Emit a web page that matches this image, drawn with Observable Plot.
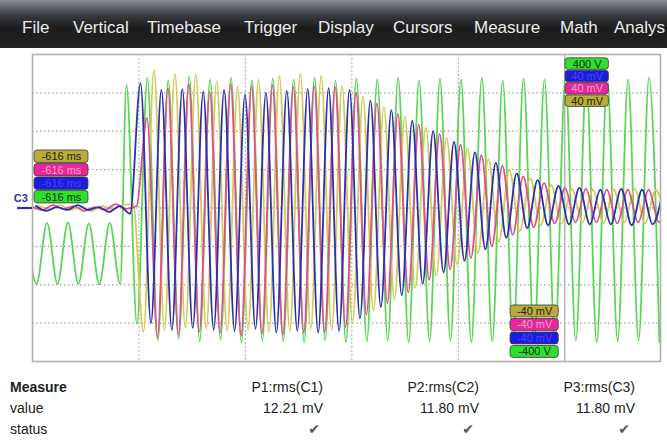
<!DOCTYPE html>
<html><head><meta charset="utf-8">
<script src="https://cdn.jsdelivr.net/npm/d3@7"></script>
<script src="https://cdn.jsdelivr.net/npm/@observablehq/plot@0.6"></script>
<style>
html,body{margin:0;padding:0;}
body{width:667px;height:441px;overflow:hidden;background:#fff;font-family:"Liberation Sans",Arial,sans-serif;position:relative;}
#menu{position:absolute;left:0;top:0;width:667px;height:48px;background:linear-gradient(#8a8e98 0px,#62666f 7px,#34363a 17px,#1c1c1c 28px,#232323 48px);overflow:hidden;}
#menu span{position:absolute;top:19px;color:#ececec;font-size:17px;line-height:17px;white-space:nowrap;}
#chart{position:absolute;left:0;top:48px;}
#table{position:absolute;left:0;top:366px;width:667px;height:75px;}
#table span{position:absolute;font-size:14px;line-height:16px;color:#222;white-space:nowrap;}
</style></head>
<body>
<div id="menu"></div>
<div id="chart"></div>
<div id="table"></div>
<script>
// ---------- data ----------
const menuItems = ["File","Vertical","Timebase","Trigger","Display","Cursors","Measure","Math","Analys"];
const menuX = [22,73,147,244,318,393,474,560,614];

const measureHeaders = ["P1:rms(C1)","P2:rms(C2)","P3:rms(C3)"];
const measureValues = ["12.21 mV","11.80 mV","11.80 mV"];
const rowLabels = ["Measure","value","status"];

// successive extremes (peak / trough), one every half period
const halfPeriodMs = 9.818;
// C1 (40 mV/div), mV
const c1Start = -3.67;
const c1_mV = [-2,2,-1,3,-2,1,-3,2,-1,3,4,-129,
 144,-127,140,-125,139,-126,132,-128,126,-127,
 134,-129,138,-128,140,-126,138,-127,127,-120,
 116,-107,105,-95,95,-83,84,-71,73,-59,
 62,-47,51,-35,40,-24,31,-18,24,-16,
 20,-15,19,-16,19,-15,20,-16,19,-15];
// C2 (40 mV/div), mV
const c2Start = -0.42;
const c2_mV = [1,-2,3,-1,2,-3,1,-2,4,-1,2,
 94,-135,125,-132,129,-129,121,-130,129,-133,
 127,-131,128,-132,126,-130,127,-129,126,-124,
 120,-111,109,-99,98,-88,87,-75,77,-64,
 66,-52,55,-40,44,-28,33,-20,26,-16,
 21,-15,20,-15,19,-16,19,-15,19,-15,18];
// C3 (40 mV/div), mV
const c3Start = 3.3;
const c3_mV = [2,-3,1,-2,3,-2,1,-4,2,-6,
 130,-120,123,-127,124,-125,121,-127,123,-128,
 118,-126,120,-130,122,-128,124,-130,125,-128,
 123,-115,112,-103,102,-91,91,-79,80,-67,
 69,-55,58,-43,47,-31,36,-21,29,-18,
 23,-17,21,-17,19,-17,20,-18,19,-17,18];
// C4 (400 V/div), V : before and after the switching instant
const c4PreStart = -6.0;
const c4Pre_V = [-156,-792,-156,-792,-150,-790,-160,-795,-156,-792];
const c4Start = 88.3;
const c4_V = [1282,-1210,1350,-1380,1330,-1360,1370,-1390,1340,-1370,
 1360,-1400,1330,-1380,1350,-1390,1340,-1400,1360,-1380,
 1330,-1400,1350,-1390,1340,-1380,1360,-1400,1330,-1390,
 1350,-1380,1340,-1400,1360,-1390,1330,-1380,1350,-1400,
 1340,-1390,1360,-1380,1330,-1400,1350,-1390,1340,-1380,
 1360,-1400];

const voltsPerDiv = {C1:40, C2:40, C3:40, C4:400};
const timeGrid = [100,200,300,400];
const divGrid = [-3,-2,-1,0,1,2,3];

const cursorTime = ["-616 ms","-616 ms","-616 ms","-616 ms"];
const cursorTop = ["400 V","40 mV","40 mV","40 mV"];
const cursorBottom = ["-40 mV","-40 mV","-40 mV","-400 V"];

// ---------- styles ----------
const col = {C1:"#d4c95a", C2:"#e0508a", C3:"#2a30b0", C4:"#5cd456"};
const boxFill = {C1:"#b9ab3c", C2:"#e8279a", C3:"#1c1ce0", C4:"#2ee02e"};
const boxText = {C1:"#262208", C2:"#f6a2cc", C3:"#4646f2", C4:"#0e2a0e"};

// ---------- menu ----------
const menu = document.getElementById("menu");
menuItems.forEach((m,i)=>{const s=document.createElement("span");s.textContent=m;s.style.left=menuX[i]+"px";menu.appendChild(s);});

// ---------- table ----------
const table = document.getElementById("table");
function addSpan(txt, opts){const s=document.createElement("span");s.textContent=txt;Object.assign(s.style,opts);table.appendChild(s);return s;}
const rowTop = [13,34,55];
const colRight = [323,479,635];
const checkRight = [320,474,630];
addSpan(rowLabels[0],{left:"10px",top:rowTop[0]+"px",fontWeight:"bold"});
addSpan(rowLabels[1],{left:"10px",top:rowTop[1]+"px"});
addSpan(rowLabels[2],{left:"10px",top:rowTop[2]+"px"});
measureHeaders.forEach((h,i)=>addSpan(h,{right:(667-colRight[i])+"px",top:rowTop[0]+"px"}));
measureValues.forEach((v,i)=>addSpan(v,{right:(667-colRight[i])+"px",top:rowTop[1]+"px"}));
measureHeaders.forEach((h,i)=>addSpan("\u2714",{right:(667-checkRight[i])+"px",top:rowTop[2]+"px",color:"#555",fontFamily:"DejaVu Sans"}));

// ---------- waveforms ----------
const series = (start, vals, ch) => vals.map((v,i)=>({t:start+i*halfPeriodMs, d:v/voltsPerDiv[ch]}));
const w1 = series(c1Start, c1_mV, "C1");
const w2 = series(c2Start, c2_mV, "C2");
const w3 = series(c3Start, c3_mV, "C3");
const w4 = series(c4PreStart, c4Pre_V, "C4").concat(series(c4Start, c4_V, "C4"));

// cursor read-out boxes (time in ms, vertical in divisions)
const leftBoxes = cursorTime.map((s,i)=>({s, ch:["C1","C2","C3","C4"][i], x1:1.9, x2:52.6, y2:1.50-i*0.352, y1:1.50-i*0.352-0.325}));
const topBoxes = cursorTop.map((s,i)=>({s, ch:["C4","C3","C2","C1"][i], x1:500.8, x2:541.5, y2:3.90-i*0.322, y1:3.90-i*0.322-0.30}));
const botBoxes = cursorBottom.map((s,i)=>({s, ch:["C1","C2","C3","C4"][i], x1:449.1, x2:494.4, y2:-2.54-i*0.352, y1:-2.54-i*0.352-0.31}));
const boxes = leftBoxes.concat(topBoxes, botBoxes);

const lineOpts = (c)=>({x:"t", y:"d", stroke:c, strokeWidth:1.8, curve:"monotone-x", clip:true});

const chart = Plot.plot({
  width:667, height:318,
  marginLeft:32, marginRight:7, marginTop:6, marginBottom:5,
  x:{domain:[0,590], axis:null},
  y:{domain:[-4,4], axis:null},
  style:{fontFamily:"Liberation Sans, Arial, sans-serif", background:"transparent", overflow:"visible"},
  marks:[
    Plot.ruleX(timeGrid, {stroke:"#8a8a8a", strokeWidth:1, strokeDasharray:"1.5,2.5"}),
    Plot.ruleY(divGrid, {stroke:"#8a8a8a", strokeWidth:1, strokeDasharray:"1.5,2.5"}),
    Plot.ruleX([500], {stroke:"#b4b4b4", strokeWidth:1.5}),
    Plot.line(w4, lineOpts(col.C4)),
    Plot.line(w1, lineOpts(col.C1)),
    Plot.line(w2, lineOpts(col.C2)),
    Plot.line(w3, lineOpts(col.C3)),
    Plot.frame({stroke:"#b0b0b0", strokeWidth:1.6}),
    Plot.rect(boxes, {x1:"x1", x2:"x2", y1:"y1", y2:"y2", fill:d=>boxFill[d.ch], stroke:"#3c3c3c", strokeWidth:0.8, rx:3}),
    Plot.text(boxes, {x:d=>(d.x1+d.x2)/2, y:d=>(d.y1+d.y2)/2, text:"s", fill:d=>boxText[d.ch], fontSize:11}),
    Plot.ruleY([0], {x1:-14, x2:0, stroke:col.C3, strokeWidth:2.2}),
    Plot.text(["C3"], {x:-11, y:0.25, fill:"#2a30b0", fontSize:11, fontWeight:"bold"})
  ]
});
document.getElementById("chart").appendChild(chart);
</script>
</body></html>
